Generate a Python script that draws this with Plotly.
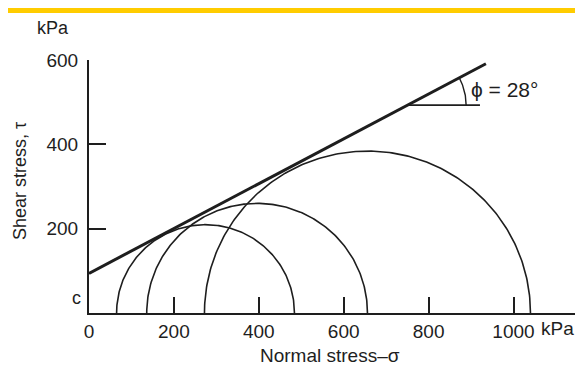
import numpy as np
import plotly.graph_objects as go

# ---- data ----
sigma3 = [65, 136, 272]          # minor principal stress (kPa), left ends of circles
sigma1 = [484, 656, 1040]        # major principal stress (kPa), right ends of circles
cohesion = 94                    # intercept c (kPa)
phi_deg = 28                     # friction angle (deg)
envelope_end = 935               # sigma at which the envelope line is drawn to
x_tickvals = [0, 200, 400, 600, 800, 1000]
x_ticktext = ["0", "200", "400", "600", "800", "1000"]
y_tickvals = [200, 400, 600]
y_ticktext = ["200", "400", "600"]
angle_level = 493                # tau level of the horizontal reference for phi
angle_hline_end = 921
angle_arc_radius = 138

INK = "#1e1e1e"
FONT = "Liberation Sans, Arial, sans-serif"

fig = go.Figure()

# Mohr circles
for s3, s1 in zip(sigma3, sigma1):
    c0 = (s1 + s3) / 2
    r = (s1 - s3) / 2
    th = np.linspace(0, np.pi, 200)
    fig.add_trace(go.Scatter(x=c0 + r * np.cos(th), y=r * np.sin(th), mode="lines",
                             line=dict(color=INK, width=1.6), hoverinfo="skip", showlegend=False))

# failure envelope
tanp = np.tan(np.radians(phi_deg))
fig.add_trace(go.Scatter(x=[0, envelope_end], y=[cohesion, cohesion + envelope_end * tanp],
                         mode="lines", line=dict(color=INK, width=3), hoverinfo="skip",
                         showlegend=False, cliponaxis=False))

# angle marker
sa = (angle_level - cohesion) / tanp
fig.add_trace(go.Scatter(x=[sa, angle_hline_end], y=[angle_level, angle_level], mode="lines",
                         line=dict(color=INK, width=1.6), hoverinfo="skip", showlegend=False))
th = np.linspace(0, np.radians(phi_deg), 40)
fig.add_trace(go.Scatter(x=sa + angle_arc_radius * np.cos(th), y=angle_level + angle_arc_radius * np.sin(th),
                         mode="lines", line=dict(color=INK, width=1.4), hoverinfo="skip", showlegend=False))


def label(text, x, y, size=19, xanchor="center", angle=0):
    fig.add_annotation(x=x, y=y, xref="paper", yref="paper", text=text, showarrow=False,
                       xanchor=xanchor, yanchor="middle", textangle=angle,
                       font=dict(family=FONT, size=size, color=INK))


label("\u03d5 = 28\u00b0", 0.779, 0.885, size=21, xanchor="left")

# yellow band at top
fig.add_shape(type="rect", xref="paper", yref="paper", x0=-0.3, x1=1.1, y0=1.186, y1=1.3,
              fillcolor="#FFCC00", line=dict(width=0), layer="above")

# text labels
label("kPa", -0.0738, 1.1265, size=18)
label("kPa", 0.961, -0.063, size=19)
label("c", -0.0252, 0.0593, size=18)
label("Shear stress, \u03c4", -0.1414, 0.5217, size=18, angle=-90)
label("Normal stress\u2013\u03c3", 0.494, -0.168, size=19)

fig.update_xaxes(range=[0, 1149.6], showline=True, linewidth=2, linecolor=INK, ticks="inside",
                 ticklen=16, tickwidth=2, tickcolor=INK, tickvals=x_tickvals, ticktext=x_ticktext,
                 showgrid=False, zeroline=False, tickfont=dict(family=FONT, size=19, color=INK),
                 ticklabelstandoff=0)
fig.update_yaxes(range=[0, 600], showline=True, linewidth=2, linecolor=INK, ticks="inside",
                 ticklen=17, tickwidth=2, tickcolor=INK, tickvals=y_tickvals, ticktext=y_ticktext,
                 showgrid=False, zeroline=False, tickfont=dict(family=FONT, size=19, color=INK),
                 ticklabelstandoff=5)

fig.update_layout(width=575, height=361, margin=dict(l=81, r=6, t=52, b=56, autoexpand=False),
                  paper_bgcolor="white", plot_bgcolor="white", showlegend=False)

fig.write_html("out.html")
